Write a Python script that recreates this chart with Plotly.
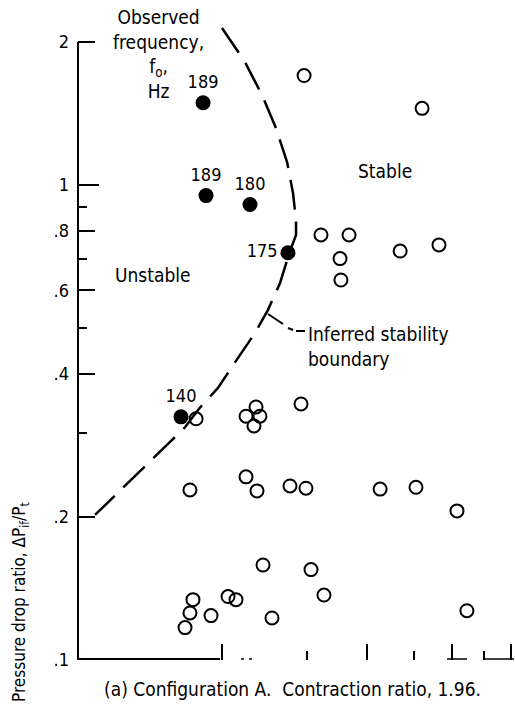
import plotly.graph_objects as go

# ---------------- data ----------------
# Unstable runs (filled symbols) with observed frequency, Hz
unstable_x = [1.822, 1.848, 2.282, 2.738, 1.639]
unstable_y = [1.49, 0.95, 0.91, 0.72, 0.325]
unstable_freq = ["189", "189", "180", "175", "140"]
unstable_textpos = ["top center", "top center", "top center", "middle left", "top center"]

# Stable runs (open symbols)
stable_x = [2.958, 5.21, 3.208, 3.67, 3.515, 3.53, 4.69, 5.65,
            1.762, 2.239, 2.349, 2.394, 2.326, 2.915,
            1.711, 2.239, 2.36, 2.765, 2.985, 4.26, 5.06, 6.16,
            2.429, 3.058, 3.254, 1.736, 1.711, 1.671, 1.893, 2.054, 2.134, 2.536, 6.46]
stable_y = [1.70, 1.45, 0.785, 0.785, 0.70, 0.631, 0.726, 0.748,
            0.322, 0.326, 0.341, 0.326, 0.311, 0.346,
            0.228, 0.243, 0.227, 0.2325, 0.230, 0.229, 0.231, 0.206,
            0.1585, 0.155, 0.137, 0.134, 0.1256, 0.117, 0.124, 0.136, 0.134, 0.1226, 0.127]

# Inferred stability boundary (dashed curve)
boundary_x = [1.995, 2.228, 2.417, 2.585, 2.726, 2.805, 2.846, 2.846, 2.752, 2.636,
              2.488, 2.337, 2.176, 1.957, 1.787, 1.671, 1.532, 1.302, 1.085]
boundary_y = [2.141, 1.815, 1.547, 1.318, 1.118, 0.962, 0.844, 0.785, 0.716, 0.622,
              0.546, 0.488, 0.439, 0.374, 0.338, 0.309, 0.2836, 0.2417, 0.202]

y_tick_vals = [0.1, 0.2, 0.4, 0.6, 0.8, 1, 2]
y_tick_text = [".1", ".2", ".4", ".6", ".8", "1", "2"]
y_minor_vals = [0.3, 0.5, 0.7, 0.9]
x_major_vals = [2, 4, 6, 8]
x_minor_vals = [3, 5, 7]

# ---------------- layout geometry ----------------
W, H = 515, 707
L, R, T, B = 78, 0, 20, 47
FONT = "DejaVu Sans Condensed, DejaVu Sans, sans-serif"


def fx(px):
    return (px - L) / (W - L - R)


def fy(py):
    return (H - B - py) / (H - T - B)


fig = go.Figure()

fig.add_trace(go.Scatter(
    x=boundary_x, y=boundary_y, mode="lines",
    line=dict(color="black", width=2.5, dash="30px,12px"),
    hoverinfo="skip", showlegend=False))

fig.add_trace(go.Scatter(
    x=stable_x, y=stable_y, mode="markers",
    marker=dict(symbol="circle-open", size=13, color="black",
                line=dict(width=2, color="black")),
    showlegend=False))

fig.add_trace(go.Scatter(
    x=unstable_x, y=unstable_y, mode="markers+text",
    text=unstable_freq, textposition=unstable_textpos,
    textfont=dict(family=FONT, size=18, color="black"),
    marker=dict(symbol="circle", size=15, color="black"),
    cliponaxis=False, showlegend=False))

shapes = []
# y-axis line from .1 to 2
shapes.append(dict(type="line", xref="paper", yref="y", x0=0, x1=0, y0=0.1, y1=2,
                   line=dict(color="black", width=2)))
# longer tick at 1
shapes.append(dict(type="line", xref="paper", yref="y", x0=0, x1=fx(99), y0=1, y1=1,
                   line=dict(color="black", width=2)))
# x-axis baseline pieces (as they appear in the scan)
for a, b, w in [(77, 220, 2), (241, 244, 1.5), (249, 252, 1.5), (447, 467, 1.5), (485, 514, 1.5)]:
    shapes.append(dict(type="line", xref="paper", yref="paper", x0=fx(a), x1=fx(b),
                       y0=fy(659), y1=fy(659), line=dict(color="black", width=w)))
# leader line for boundary label
shapes.append(dict(type="line", xref="paper", yref="paper", x0=fx(268), y0=fy(314),
                   x1=fx(283), y1=fy(324), line=dict(color="black", width=2)))
shapes.append(dict(type="line", xref="paper", yref="paper", x0=fx(288), y0=fy(328),
                   x1=fx(293), y1=fy(330), line=dict(color="black", width=2)))
shapes.append(dict(type="line", xref="paper", yref="paper", x0=fx(296), y0=fy(331),
                   x1=fx(305), y1=fy(331), line=dict(color="black", width=2)))

annotations = []


def note(text, px, py, xanchor="center", yanchor="middle", size=19, align="center", angle=0):
    annotations.append(dict(text=text, xref="paper", yref="paper", x=fx(px), y=fy(py),
                            xanchor=xanchor, yanchor=yanchor, showarrow=False, align=align,
                            textangle=angle, font=dict(family=FONT, size=size, color="black")))


note("Observed<br>frequency,<br>f<sub>o</sub>,<br>Hz", 158, 4, yanchor="top")
note("Unstable", 153, 275)
note("Stable", 385, 171)
note("Inferred stability<br>boundary", 306, 321, xanchor="left", yanchor="top", align="left")
note("(a) Configuration A.&nbsp; Contraction ratio, 1.96.", 292, 689)
note("Pressure drop ratio, &#916;P<sub>if</sub>/P<sub>t</sub>", 20, 704, yanchor="bottom",
     angle=-90, size=17)

fig.update_layout(
    width=W, height=H,
    margin=dict(l=L, r=R, t=T, b=B, pad=0),
    paper_bgcolor="white", plot_bgcolor="white",
    showlegend=False,
    shapes=shapes, annotations=annotations,
    font=dict(family=FONT, size=18, color="black"),
    xaxis=dict(type="log", range=[0, 437 / 480], showgrid=False, zeroline=False,
               showline=False, showticklabels=False,
               ticks="inside", tickvals=x_major_vals, ticklen=16, tickwidth=2, tickcolor="black",
               minor=dict(tickvals=x_minor_vals, ticks="inside", ticklen=9, tickwidth=2,
                          tickcolor="black", showgrid=False)),
    yaxis=dict(type="log", range=[-1, -1 + 640 / 475], showgrid=False, zeroline=False,
               showline=False, tickvals=y_tick_vals, ticktext=y_tick_text,
               ticks="inside", ticklen=17, tickwidth=2, tickcolor="black",
               ticklabelstandoff=8,
               tickfont=dict(family=FONT, size=18, color="black"),
               minor=dict(tickvals=y_minor_vals, ticks="inside", ticklen=9, tickwidth=2,
                          tickcolor="black", showgrid=False)),
)

fig.write_html("out.html")
